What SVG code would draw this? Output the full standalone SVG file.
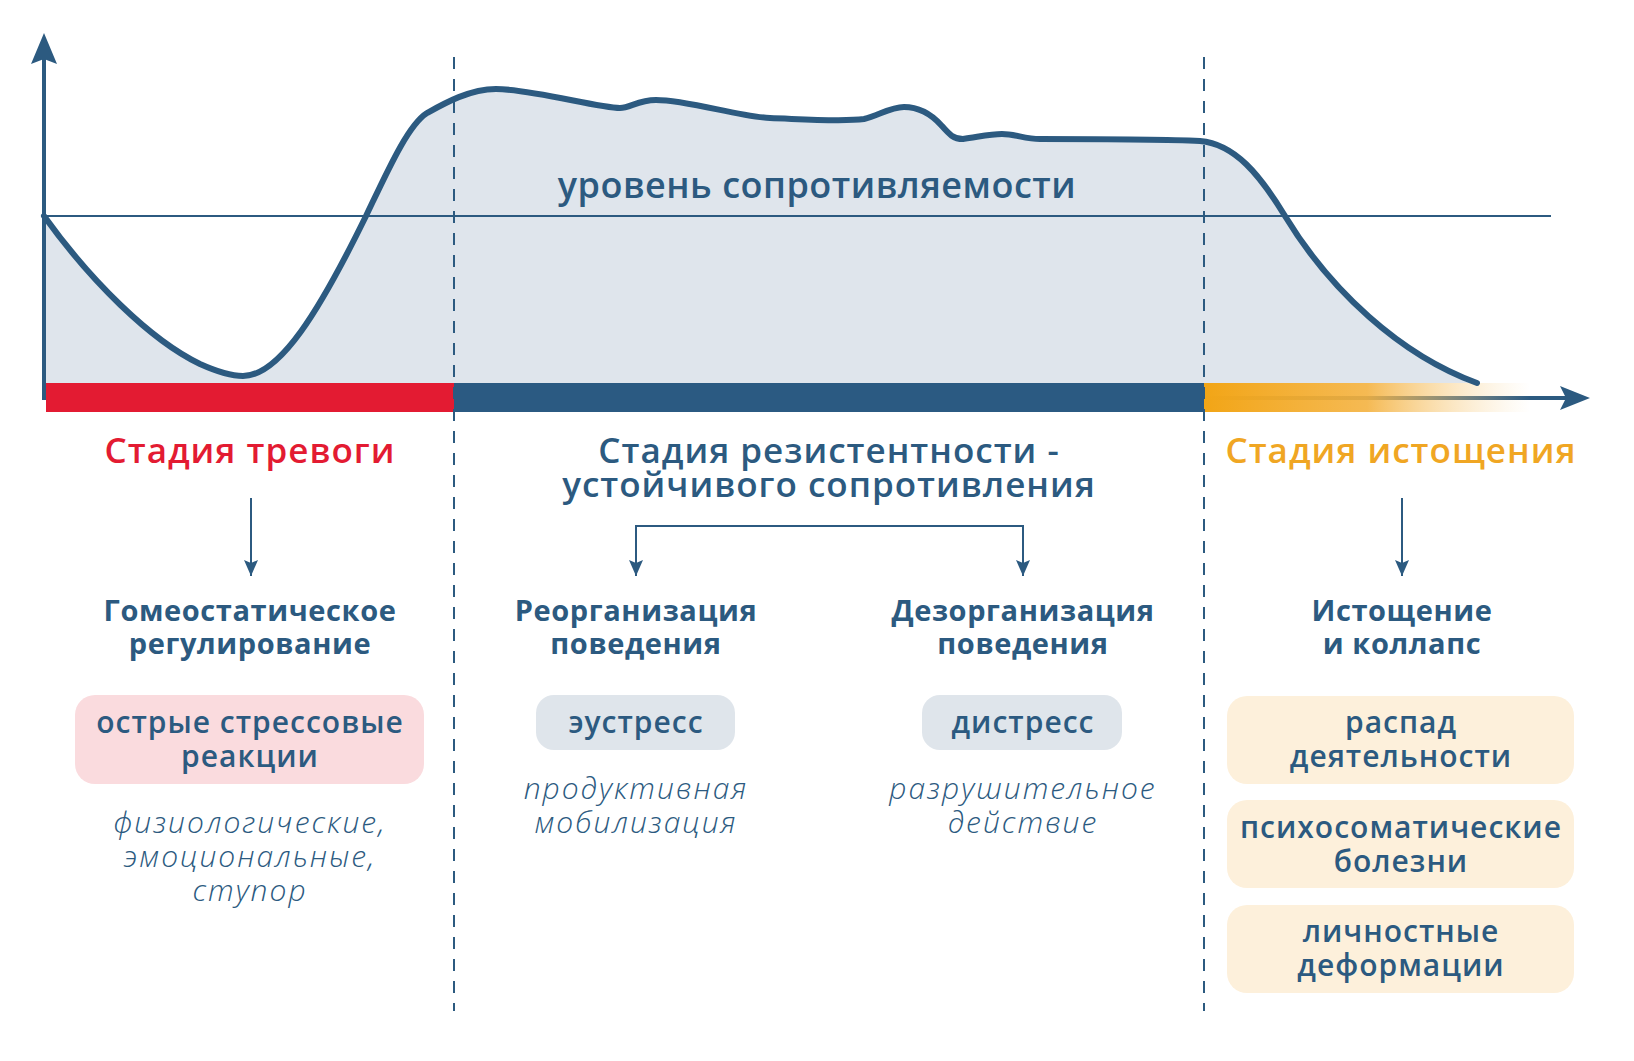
<svg xmlns="http://www.w3.org/2000/svg" width="1634" height="1061" viewBox="0 0 1634 1061">
<defs>
<style>
text{font-family:"Open Sans","Liberation Sans",sans-serif;text-anchor:middle;fill:#2c5a80}
.title{font-size:35px;font-weight:600;letter-spacing:1px}
.lbl{font-size:36px;font-weight:600;letter-spacing:0.5px}
.sub{font-size:29px;font-weight:700;letter-spacing:0.6px}
.box{font-size:30px;font-weight:600;letter-spacing:1px}
.it{font-size:30px;font-weight:300;font-style:italic;letter-spacing:2px}
.dash{stroke:#2c5a80;stroke-width:2;stroke-dasharray:12 10;fill:none}
.conn{stroke:#2c5a80;stroke-width:2;fill:none}
</style>
<linearGradient id="og" x1="1204" y1="0" x2="1530" y2="0" gradientUnits="userSpaceOnUse">
<stop offset="0" stop-color="#f2a516"/>
<stop offset="0.5" stop-color="#f4b240" stop-opacity="0.9"/>
<stop offset="1" stop-color="#f9d9a0" stop-opacity="0"/>
</linearGradient>
<marker id="ah" viewBox="0 0 16 14" refX="16" refY="7" markerWidth="16" markerHeight="14" markerUnits="userSpaceOnUse" orient="auto-start-reverse">
<path d="M0,0 L16,7 L0,14 L3,7 Z" fill="#2c5a80"/>
</marker>
</defs>
<rect width="1634" height="1061" fill="#ffffff"/>

<g id="chart">
<path id="area" fill="#dfe5ec" d="M44,216 C90,280 150,340 200,364 C220,373 232,376 243,376 C280,376 320,310 366,216 C388,170 408,125 427,113 C445,103 470,89 496,89 C532,89 598,108 620,108 C630,108 638,100 656,100 C688,100 740,117 770,118 C800,119 842,122 864,119 C878,116 890,107 904,107 C918,107 931,114 941,125 C949,134 953,139 963,139 C978,137 990,134 1002,134 C1015,134 1025,139 1040,139 C1100,139 1160,139 1200,141 C1235,144 1260,175 1285,216 C1330,290 1400,355 1477,383 L44,383 Z"/>
<line x1="44" y1="216" x2="1551" y2="216" stroke="#2c5a80" stroke-width="2"/>
<line x1="44" y1="398" x2="1568" y2="398" stroke="#2c5a80" stroke-width="4"/>
<polygon points="1590,398 1560,386 1566,398 1560,410" fill="#2c5a80"/>
<rect x="46" y="383" width="408" height="29" fill="#e31b32"/>
<rect x="454" y="383" width="750" height="29" fill="#2b5a82"/>
<rect x="1204" y="383" width="326" height="29" fill="url(#og)"/>
<line x1="44" y1="400" x2="44" y2="58" stroke="#2c5a80" stroke-width="4"/>
<polygon points="44,33 57,64 44,59 31,64" fill="#2c5a80"/>
<path id="curve" fill="none" stroke="#2c5a80" stroke-width="6" stroke-linecap="round" stroke-linejoin="round" d="M44,216 C90,280 150,340 200,364 C220,373 232,376 243,376 C280,376 320,310 366,216 C388,170 408,125 427,113 C445,103 470,89 496,89 C532,89 598,108 620,108 C630,108 638,100 656,100 C688,100 740,117 770,118 C800,119 842,122 864,119 C878,116 890,107 904,107 C918,107 931,114 941,125 C949,134 953,139 963,139 C978,137 990,134 1002,134 C1015,134 1025,139 1040,139 C1100,139 1160,139 1200,141 C1235,144 1260,175 1285,216 C1330,290 1400,355 1477,383"/>
<line class="dash" x1="454" y1="57" x2="454" y2="1011"/>
<line class="dash" x1="1204" y1="57" x2="1204" y2="1011"/>
<text class="lbl" x="817" y="198">уровень сопротивляемости</text>
</g>

<g id="connectors">
<line class="conn" x1="251" y1="498" x2="251" y2="576" marker-end="url(#ah)"/>
<path class="conn" d="M636,576 V526 H1023 V576" marker-start="url(#ah)" marker-end="url(#ah)"/>
<line class="conn" x1="1402" y1="498" x2="1402" y2="576" marker-end="url(#ah)"/>
</g>

<g id="stage-alarm">
<text class="title" x="250" y="463" style="fill:#e31b32">Стадия тревоги</text>
</g>
<g id="stage-resistance">
<text class="title" x="829" y="463">Стадия резистентности -</text>
<text class="title" x="829" y="497">устойчивого сопротивления</text>
</g>
<g id="stage-exhaustion">
<text class="title" x="1401" y="463" style="fill:#f0a623">Стадия истощения</text>
</g>

<g id="homeostatic">
<text class="sub" x="250" y="621">Гомеостатическое</text>
<text class="sub" x="250" y="654">регулирование</text>
</g>
<g id="acute">
<rect x="75" y="695" width="349" height="89" rx="20" fill="#fadbde"/>
<text class="box" x="250" y="733">острые стрессовые</text>
<text class="box" x="250" y="767">реакции</text>
</g>
<g id="acute-desc">
<text class="it" x="250" y="833">физиологические,</text>
<text class="it" x="250" y="867">эмоциональные,</text>
<text class="it" x="250" y="901">ступор</text>
</g>

<g id="reorg">
<text class="sub" x="636" y="621">Реорганизация</text>
<text class="sub" x="636" y="654">поведения</text>
</g>
<g id="eustress">
<rect x="536" y="695" width="199" height="55" rx="18" fill="#dfe5eb"/>
<text class="box" x="636" y="733">эустресс</text>
</g>
<g id="eustress-desc">
<text class="it" x="636" y="799">продуктивная</text>
<text class="it" x="636" y="833">мобилизация</text>
</g>

<g id="disorg">
<text class="sub" x="1023" y="621">Дезорганизация</text>
<text class="sub" x="1023" y="654">поведения</text>
</g>
<g id="distress">
<rect x="922" y="695" width="200" height="55" rx="18" fill="#dfe5eb"/>
<text class="box" x="1023" y="733">дистресс</text>
</g>
<g id="distress-desc">
<text class="it" x="1023" y="799">разрушительное</text>
<text class="it" x="1023" y="833">действие</text>
</g>

<g id="collapse">
<text class="sub" x="1402" y="621">Истощение</text>
<text class="sub" x="1402" y="654">и коллапс</text>
</g>
<g id="decay">
<rect x="1227" y="696" width="347" height="88" rx="20" fill="#fdf0db"/>
<text class="box" x="1401" y="733">распад</text>
<text class="box" x="1401" y="767">деятельности</text>
</g>
<g id="psychosomatic">
<rect x="1227" y="800" width="347" height="88" rx="20" fill="#fdf0db"/>
<text class="box" x="1401" y="838">психосоматические</text>
<text class="box" x="1401" y="872">болезни</text>
</g>
<g id="deformation">
<rect x="1227" y="905" width="347" height="88" rx="20" fill="#fdf0db"/>
<text class="box" x="1401" y="942">личностные</text>
<text class="box" x="1401" y="976">деформации</text>
</g>
</svg>
